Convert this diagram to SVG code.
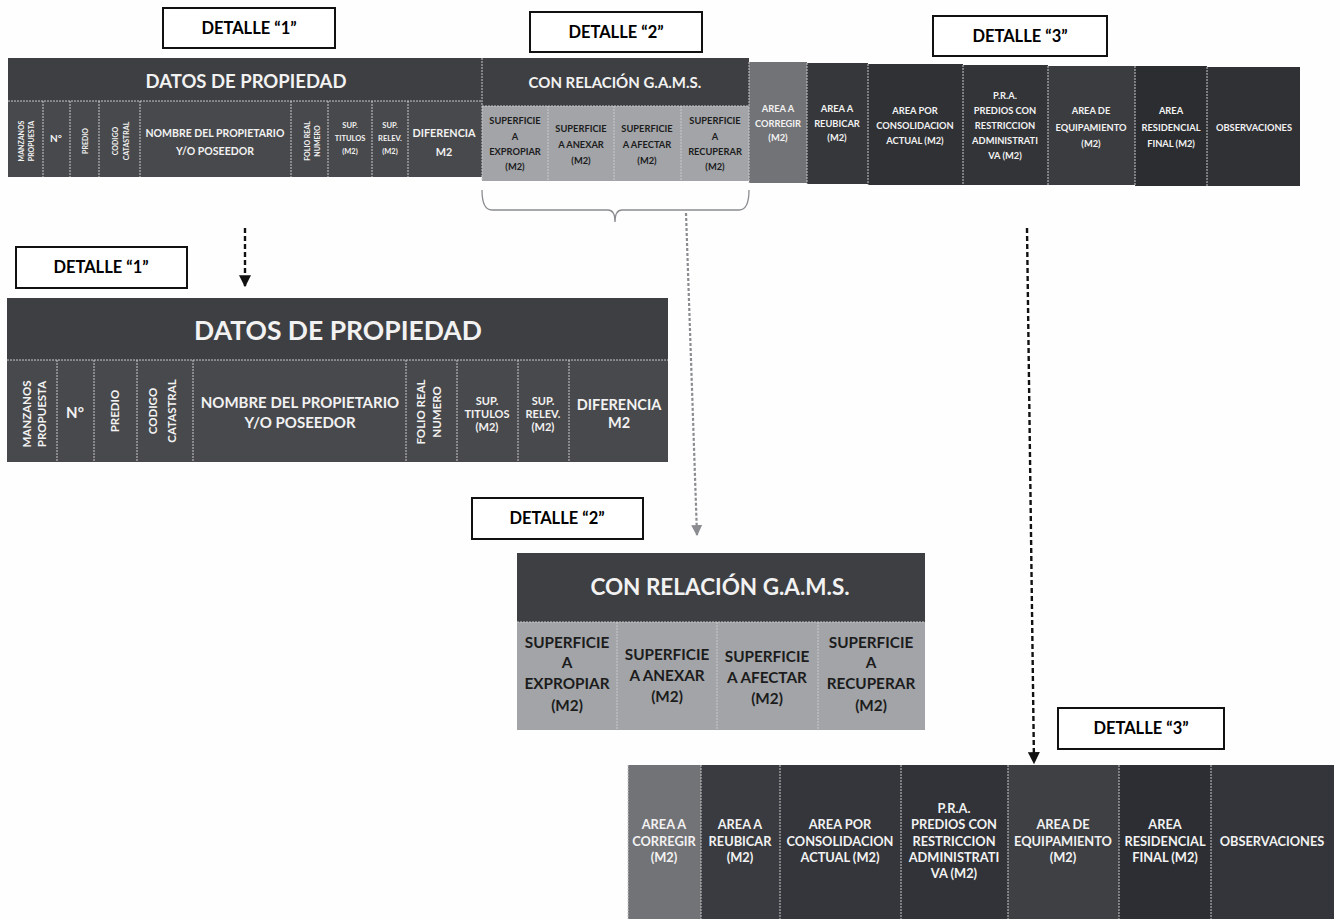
<svg xmlns="http://www.w3.org/2000/svg" width="1340" height="919" viewBox="0 0 1340 919">
<defs>
<style>
text{font-family:Lato,"Open Sans","Liberation Sans",sans-serif;}
.w{fill:#f2f2f2;font-weight:700;text-anchor:middle;}
.k{fill:#1c1c1c;font-weight:700;text-anchor:middle;}
.lbl{fill:#000;font-weight:700;text-anchor:middle;font-size:16.5px;}
.box{fill:#fff;stroke:#111;stroke-width:2;}
.div{stroke:#c9c9c9;stroke-width:1;stroke-dasharray:2 1;fill:none;}
.hd{fill:#3e3f42;}
.sb{fill:#48494c;}
.lt{fill:#a2a4a8;}
.cg{fill:#727377;}
</style>
<marker id="ahk" viewBox="0 0 10 10" refX="9" refY="5" markerWidth="5" markerHeight="5" orient="auto"><path d="M0,0 L10,5 L0,10 z" fill="#111"/></marker>
<marker id="ahg" viewBox="0 0 10 10" refX="9" refY="5" markerWidth="5" markerHeight="5" orient="auto"><path d="M0,0 L10,5 L0,10 z" fill="#8a8c90"/></marker>
</defs>
<rect width="1340" height="919" fill="#fefefe"/>

<!-- ===== TOP TABLE ===== -->
<g id="top-labels">
<rect class="box" x="163" y="8" width="172" height="40"/>
<text class="lbl" x="249" y="34">DETALLE “1”</text>
<rect class="box" x="530" y="12" width="172" height="40"/>
<text class="lbl" x="616" y="38">DETALLE “2”</text>
<rect class="box" x="933" y="16" width="174" height="40"/>
<text class="lbl" x="1020" y="42">DETALLE “3”</text>
</g>

<g id="top-datos">
<rect class="hd" x="8" y="58" width="474" height="43"/>
<text class="w" x="246" y="88" font-size="18.5">DATOS DE PROPIEDAD</text>
<rect class="sb" x="8" y="101" width="474" height="76"/>
<path class="div" d="M8,101H482M43,101V177M70,101V177M99,101V177M140,101V177M291,101V177M328,101V177M372,101V177M408,101V177"/>
<g font-size="7">
<text class="w" transform="translate(24,141) rotate(-90)">MANZANOS</text>
<text class="w" transform="translate(34,141) rotate(-90)">PROPUESTA</text>
<text class="w" transform="translate(88,141) rotate(-90)">PREDIO</text>
<text class="w" transform="translate(118,141) rotate(-90)">CODIGO</text>
<text class="w" transform="translate(129,141) rotate(-90)">CATASTRAL</text>
<text class="w" transform="translate(310,141) rotate(-90)">FOLIO REAL</text>
<text class="w" transform="translate(320,141) rotate(-90)">NUMERO</text>
</g>
<text class="w" x="56" y="142" font-size="10">N°</text>
<text class="w" x="215" y="137" font-size="10.5">NOMBRE DEL PROPIETARIO</text>
<text class="w" x="215" y="155" font-size="10.5">Y/O POSEEDOR</text>
<g font-size="7.5">
<text class="w" x="350" y="128">SUP.</text>
<text class="w" x="350" y="141">TITULOS</text>
<text class="w" x="350" y="154">(M2)</text>
<text class="w" x="390" y="128">SUP.</text>
<text class="w" x="390" y="141">RELEV.</text>
<text class="w" x="390" y="154">(M2)</text>
</g>
<text class="w" x="444" y="137" font-size="10.8">DIFERENCIA</text>
<text class="w" x="444" y="156" font-size="10.8">M2</text>
</g>

<g id="top-gams">
<rect class="hd" x="482" y="58" width="267" height="48"/>
<text class="w" x="615" y="88" font-size="15" font-weight="600">CON RELACIÓN G.A.M.S.</text>
<rect class="lt" x="482" y="106" width="267" height="75"/>
<path class="div" d="M482,58V181M482,106H749M548,106V181M614,106V181M681,106V181"/>
<g font-size="9.3">
<text class="k" x="515" y="124">SUPERFICIE</text>
<text class="k" x="515" y="140">A</text>
<text class="k" x="515" y="155">EXPROPIAR</text>
<text class="k" x="515" y="170">(M2)</text>
<text class="k" x="581" y="132">SUPERFICIE</text>
<text class="k" x="581" y="148">A ANEXAR</text>
<text class="k" x="581" y="164">(M2)</text>
<text class="k" x="647" y="132">SUPERFICIE</text>
<text class="k" x="647" y="148">A AFECTAR</text>
<text class="k" x="647" y="164">(M2)</text>
<text class="k" x="715" y="124">SUPERFICIE</text>
<text class="k" x="715" y="140">A</text>
<text class="k" x="715" y="155">RECUPERAR</text>
<text class="k" x="715" y="170">(M2)</text>
</g>
</g>

<g id="top-areas" font-size="9.3">
<rect class="cg" x="749" y="62" width="58" height="121"/>
<rect fill="#35373b" x="807" y="63" width="61" height="121"/>
<rect fill="#2f3135" x="868" y="64" width="95" height="121"/>
<rect fill="#323438" x="963" y="65" width="85" height="120"/>
<rect fill="#3a3c40" x="1048" y="66" width="87" height="119"/>
<rect fill="#2b2d31" x="1135" y="66" width="72" height="120"/>
<rect fill="#2f3135" x="1207" y="67" width="93" height="119"/>
<path class="div" d="M749,62V183M807,63V184M868,64V185M963,65V185M1048,66V185M1135,66V186M1207,67V186"/>
<text class="w" x="778" y="112">AREA A</text>
<text class="w" x="778" y="127">CORREGIR</text>
<text class="w" x="778" y="141">(M2)</text>
<text class="w" x="837" y="112">AREA A</text>
<text class="w" x="837" y="127">REUBICAR</text>
<text class="w" x="837" y="141">(M2)</text>
<text class="w" x="915" y="114">AREA POR</text>
<text class="w" x="915" y="129">CONSOLIDACION</text>
<text class="w" x="915" y="144">ACTUAL (M2)</text>
<text class="w" x="1005" y="99">P.R.A.</text>
<text class="w" x="1005" y="114">PREDIOS CON</text>
<text class="w" x="1005" y="129">RESTRICCION</text>
<text class="w" x="1005" y="144">ADMINISTRATI</text>
<text class="w" x="1005" y="159">VA (M2)</text>
<text class="w" x="1091" y="114">AREA DE</text>
<text class="w" x="1091" y="131">EQUIPAMIENTO</text>
<text class="w" x="1091" y="147">(M2)</text>
<text class="w" x="1171" y="114">AREA</text>
<text class="w" x="1171" y="131">RESIDENCIAL</text>
<text class="w" x="1171" y="147">FINAL (M2)</text>
<text class="w" x="1254" y="131">OBSERVACIONES</text>
</g>

<!-- ===== DETALLE 1 ===== -->
<g id="detalle1-label">
<rect class="box" x="16" y="247" width="171" height="41"/>
<text class="lbl" x="101" y="273">DETALLE “1”</text>
</g>
<g id="detalle1-table">
<rect class="hd" x="7" y="298" width="661" height="62"/>
<text class="w" x="338" y="340" font-size="26.5" font-weight="600">DATOS DE PROPIEDAD</text>
<rect class="sb" x="7" y="360" width="661" height="102"/>
<path class="div" d="M7,360H668M57,360V462M94,360V462M137,360V462M193,360V462M406,360V462M457,360V462M518,360V462M569,360V462"/>
<g font-size="11.5" font-weight="600">
<text class="w" transform="translate(31,414) rotate(-90)">MANZANOS</text>
<text class="w" transform="translate(46,414) rotate(-90)">PROPUESTA</text>
<text class="w" transform="translate(119,411) rotate(-90)">PREDIO</text>
<text class="w" transform="translate(157,411) rotate(-90)">CODIGO</text>
<text class="w" transform="translate(176,411) rotate(-90)">CATASTRAL</text>
<text class="w" transform="translate(425,412) rotate(-90)">FOLIO REAL</text>
<text class="w" transform="translate(441,412) rotate(-90)">NUMERO</text>
</g>
<text class="w" x="75" y="418" font-size="15" font-weight="600">N°</text>
<text class="w" x="300" y="408" font-size="15" font-weight="600">NOMBRE DEL PROPIETARIO</text>
<text class="w" x="300" y="428" font-size="15" font-weight="600">Y/O POSEEDOR</text>
<g font-size="11" font-weight="600">
<text class="w" x="487" y="405">SUP.</text>
<text class="w" x="487" y="418">TITULOS</text>
<text class="w" x="487" y="431">(M2)</text>
<text class="w" x="543" y="405">SUP.</text>
<text class="w" x="543" y="418">RELEV.</text>
<text class="w" x="543" y="431">(M2)</text>
</g>
<text class="w" x="619" y="410" font-size="14.5" font-weight="600">DIFERENCIA</text>
<text class="w" x="619" y="428" font-size="14.5" font-weight="600">M2</text>
</g>

<!-- ===== DETALLE 2 ===== -->
<g id="detalle2-label">
<rect class="box" x="472" y="498" width="171" height="41"/>
<text class="lbl" x="557" y="524">DETALLE “2”</text>
</g>
<g id="detalle2-table">
<rect class="hd" x="517" y="553" width="408" height="69"/>
<text class="w" x="720" y="595" font-size="22.5" font-weight="600">CON RELACIÓN G.A.M.S.</text>
<rect class="lt" x="517" y="622" width="408" height="108"/>
<path class="div" d="M517,622H925M617,622V730M717,622V730M818,622V730"/>
<g font-size="15.3">
<text class="k" x="567" y="648">SUPERFICIE</text>
<text class="k" x="567" y="668">A</text>
<text class="k" x="567" y="689">EXPROPIAR</text>
<text class="k" x="567" y="711">(M2)</text>
<text class="k" x="667" y="660">SUPERFICIE</text>
<text class="k" x="667" y="681">A ANEXAR</text>
<text class="k" x="667" y="702">(M2)</text>
<text class="k" x="767" y="662">SUPERFICIE</text>
<text class="k" x="767" y="683">A AFECTAR</text>
<text class="k" x="767" y="704">(M2)</text>
<text class="k" x="871" y="648">SUPERFICIE</text>
<text class="k" x="871" y="668">A</text>
<text class="k" x="871" y="689">RECUPERAR</text>
<text class="k" x="871" y="711">(M2)</text>
</g>
</g>

<!-- ===== DETALLE 3 ===== -->
<g id="detalle3-label">
<rect class="box" x="1058" y="708" width="166" height="41"/>
<text class="lbl" x="1141" y="734">DETALLE “3”</text>
</g>
<g id="detalle3-table" font-size="12.8" font-weight="600">
<rect class="cg" x="628" y="765" width="73" height="154"/>
<rect fill="#393b40" x="701" y="765" width="79" height="154"/>
<rect fill="#34363b" x="780" y="765" width="121" height="154"/>
<rect fill="#313338" x="901" y="765" width="107" height="154"/>
<rect fill="#3e4044" x="1008" y="765" width="111" height="154"/>
<rect fill="#2c2e33" x="1119" y="765" width="92" height="154"/>
<rect fill="#33353a" x="1211" y="765" width="123" height="154"/>
<path class="div" d="M628,765V919M701,765V919M780,765V919M901,765V919M1008,765V919M1119,765V919M1211,765V919"/>
<text class="w" x="664" y="829">AREA A</text>
<text class="w" x="664" y="846">CORREGIR</text>
<text class="w" x="664" y="862">(M2)</text>
<text class="w" x="740" y="829">AREA A</text>
<text class="w" x="740" y="846">REUBICAR</text>
<text class="w" x="740" y="862">(M2)</text>
<text class="w" x="840" y="829">AREA POR</text>
<text class="w" x="840" y="846">CONSOLIDACION</text>
<text class="w" x="840" y="862">ACTUAL (M2)</text>
<text class="w" x="954" y="813">P.R.A.</text>
<text class="w" x="954" y="829">PREDIOS CON</text>
<text class="w" x="954" y="846">RESTRICCION</text>
<text class="w" x="954" y="862">ADMINISTRATI</text>
<text class="w" x="954" y="878">VA (M2)</text>
<text class="w" x="1063" y="829">AREA DE</text>
<text class="w" x="1063" y="846">EQUIPAMIENTO</text>
<text class="w" x="1063" y="862">(M2)</text>
<text class="w" x="1165" y="829">AREA</text>
<text class="w" x="1165" y="846">RESIDENCIAL</text>
<text class="w" x="1165" y="862">FINAL (M2)</text>
<text class="w" x="1272" y="846">OBSERVACIONES</text>
</g>

<!-- ===== CONNECTORS ===== -->
<g id="connectors" fill="none">
<path d="M482,190 Q482,210 492,210 H608 Q615,210 615,222 Q615,210 622,210 H739 Q749,210 749,190" stroke="#8a8c90" stroke-width="1.3"/>
<path d="M686,213 L697,535" stroke="#8a8c90" stroke-width="2.2" stroke-dasharray="3 2" marker-end="url(#ahg)"/>
<path d="M245,228 L245,286" stroke="#111" stroke-width="2.4" stroke-dasharray="5 3" marker-end="url(#ahk)"/>
<path d="M1027,228 L1034,763" stroke="#111" stroke-width="2.4" stroke-dasharray="5 3" marker-end="url(#ahk)"/>
</g>
</svg>
